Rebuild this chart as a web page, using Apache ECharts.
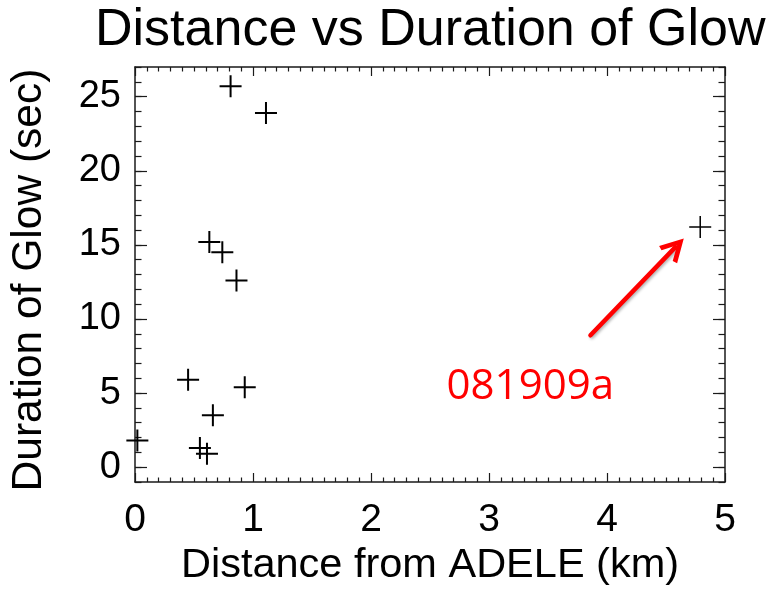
<!DOCTYPE html>
<html>
<head>
<meta charset="utf-8">
<title>Distance vs Duration of Glow</title>
<script src="https://cdn.jsdelivr.net/npm/echarts@6/dist/echarts.min.js"></script>
<style>
  html, body { margin: 0; padding: 0; background: #ffffff; }
  #chart { width: 768px; height: 592px; }
</style>
</head>
<body>
<div id="chart"></div>
<script>
// Glow events: distance from ADELE (km) and glow duration (s)
const distanceKm = [0.02, 0.81, 1.11, 0.63, 0.74, 0.86, 0.45, 0.93, 0.66, 0.55, 0.61];
const glowSec    = [1.8, 25.7, 23.9, 15.2, 14.5, 12.6, 5.9, 5.4, 3.5, 1.3, 0.9];

// Event singled out with an arrow
const flaggedName = '081909a';
const flaggedDistance = [4.79];
const flaggedGlow = [16.2];

// Tick labels
const xTicks = [0, 1, 2, 3, 4, 5];
const yTicks = [0, 5, 10, 15, 20, 25];

const FONT = '"Liberation Sans", Arial, sans-serif';
const AXIS_COLOR = '#1a1a1a';

// Filled plus-sign markers (22 x 22 box)
const PLUS = 'path://M10,0 H12 V10 H22 V12 H12 V22 H10 V12 H0 V10 H10 Z';
const PLUS_THIN = 'path://M10.25,0 H11.75 V10.25 H22 V11.75 H11.75 V22 H10.25 V11.75 H0 V10.25 H10.25 Z';
// Open chevron arrow head, tip at the top
const CHEVRON = 'path://M50,0 L100,94 L81,100 L50,40 L19,100 L0,94 Z';

const pairs = (xs, ys) => xs.map((x, i) => [x, ys[i]]);

const axisLine = { show: true, onZero: false, lineStyle: { color: AXIS_COLOR, width: 1.5 } };
const tickStyle = { color: AXIS_COLOR, width: 1.2 };

function xAxisAt(position, withLabels) {
  return {
    type: 'value', position: position, min: 0, max: 5, interval: 1,
    axisLine: axisLine,
    axisTick: { show: true, inside: true, length: 9, lineStyle: tickStyle },
    minorTick: { show: true, splitNumber: 10, length: 4.5, lineStyle: tickStyle },
    axisLabel: withLabels ? {
      show: true, margin: 19, fontSize: 39, fontFamily: FONT, color: '#000',
      customValues: xTicks
    } : { show: false },
    splitLine: { show: false },
    minorSplitLine: { show: false },
    name: withLabels ? 'Distance from ADELE (km)' : '',
    nameLocation: 'middle', nameGap: 63,
    nameTextStyle: { fontSize: 41.5, fontFamily: FONT, color: '#000' }
  };
}

// Minor y ticks every 1 s
function yMinorAxisAt(position, withName) {
  return {
    type: 'value', position: position, min: -1, max: 27, interval: 1,
    axisLine: axisLine,
    axisTick: { show: true, inside: true, length: 6.5, lineStyle: tickStyle },
    axisLabel: { show: false },
    splitLine: { show: false },
    name: withName ? 'Duration of Glow (sec)' : '',
    nameLocation: 'middle', nameGap: 84,
    nameTextStyle: { fontSize: 42.5, fontFamily: FONT, color: '#000', padding: [0, 11, 0, 0] }
  };
}

// Major y ticks every 5 s
function yMajorAxisAt(position, withLabels) {
  return {
    type: 'value', position: position, min: -1, max: 27,
    axisLine: { show: false, onZero: false },
    axisTick: { show: true, inside: true, length: 12, lineStyle: tickStyle, customValues: yTicks },
    axisLabel: withLabels ? {
      show: true, margin: 14, fontSize: 38, fontFamily: FONT, color: '#000',
      customValues: yTicks
    } : { show: false },
    splitLine: { show: false }
  };
}

const chart = echarts.init(document.getElementById('chart'), null, { renderer: 'canvas' });

chart.setOption({
  animation: false,
  backgroundColor: '#ffffff',
  title: {
    text: 'Distance vs Duration of Glow',
    left: 95, top: 5, padding: 0,
    textStyle: { fontSize: 52, fontWeight: 'normal', fontFamily: FONT, color: '#000' }
  },
  grid: { left: 134, right: 43, top: 67, bottom: 108, containLabel: false },
  xAxis: [xAxisAt('bottom', true), xAxisAt('top', false)],
  yAxis: [
    yMinorAxisAt('left', true),
    yMajorAxisAt('left', true),
    yMinorAxisAt('right', false),
    yMajorAxisAt('right', false)
  ],
  series: [
    {
      type: 'scatter',
      xAxisIndex: 0, yAxisIndex: 0,
      symbol: PLUS, symbolSize: 22,
      itemStyle: { color: '#000', opacity: 1 },
      emphasis: { disabled: true },
      data: pairs(distanceKm, glowSec)
    },
    {
      type: 'scatter',
      xAxisIndex: 0, yAxisIndex: 0,
      symbol: PLUS_THIN, symbolSize: 22,
      itemStyle: { color: '#000', opacity: 1 },
      emphasis: { disabled: true },
      data: pairs(flaggedDistance, flaggedGlow),
      markLine: {
        silent: true,
        symbol: ['none', CHEVRON],
        symbolSize: [25, 24],
        label: { show: false },
        emphasis: { disabled: true },
        lineStyle: {
          type: 'solid', color: '#ff0000', width: 4.5, cap: 'round',
          shadowColor: 'rgba(0,0,0,0.3)', shadowBlur: 3, shadowOffsetX: 1.5, shadowOffsetY: 1.5
        },
        data: [[{ coord: [3.86, 8.9] }, { coord: [4.58, 14.85] }]]
      },
      markPoint: {
        silent: true,
        symbol: 'circle', symbolSize: 1,
        itemStyle: { color: 'transparent' },
        label: {
          show: true, position: 'inside', formatter: flaggedName,
          fontSize: 42, fontFamily: '"Open Sans", "Noto Sans", sans-serif', color: '#ff0000'
        },
        data: [{ coord: [3.35, 5.4] }]
      }
    }
  ]
});
</script>
</body>
</html>
